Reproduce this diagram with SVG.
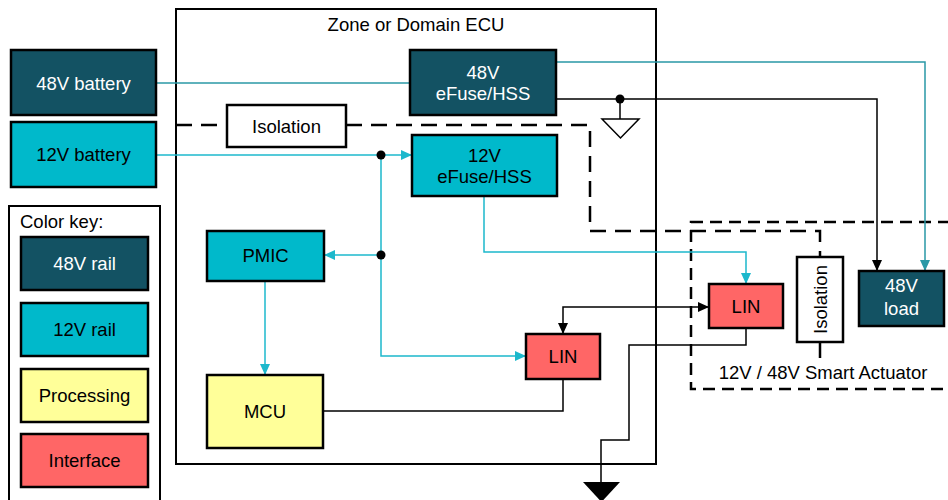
<svg xmlns="http://www.w3.org/2000/svg" width="948" height="500" viewBox="0 0 948 500">
<defs>
<style>
text{font-family:"Liberation Sans",Arial,sans-serif;font-size:18.5px;text-anchor:middle;fill:#000}
.w{fill:#fff}
.box{stroke:#000;stroke-width:2.5}
.d48{fill:#135263}
.d12{fill:#00B9CB}
.proc{fill:#FFFF99}
.intf{fill:#FF6666}
.wht{fill:#fff}
.c12{fill:none;stroke:#1CB8CC;stroke-width:1.5}
.c48{fill:none;stroke:#2A98A6;stroke-width:1.5}
.cb{fill:none;stroke:#000;stroke-width:1.5}
.dash{fill:none;stroke:#000;stroke-width:2.5;stroke-dasharray:16 9}
.dash2{fill:none;stroke:#000;stroke-width:2.5;stroke-dasharray:12 7}
</style>
<marker id="aC" markerUnits="userSpaceOnUse" markerWidth="11" markerHeight="10" refX="11" refY="5" orient="auto"><path d="M0,0 L11,5 L0,10 z" fill="#1CB8CC"/></marker>
<marker id="aT" markerUnits="userSpaceOnUse" markerWidth="11" markerHeight="10" refX="11" refY="5" orient="auto"><path d="M0,0 L11,5 L0,10 z" fill="#2A98A6"/></marker>
<marker id="aB" markerUnits="userSpaceOnUse" markerWidth="11" markerHeight="10" refX="11" refY="5" orient="auto"><path d="M0,0 L11,5 L0,10 z" fill="#000"/></marker>
<marker id="aBs" markerUnits="userSpaceOnUse" markerWidth="11" markerHeight="10" refX="11" refY="5" orient="auto-start-reverse"><path d="M0,0 L11,5 L0,10 z" fill="#000"/></marker>
</defs>
<rect width="948" height="500" fill="#fff"/>

<g id="zone-ecu">
<rect x="176" y="9" width="480" height="455" fill="none" stroke="#000" stroke-width="2"/>
<text x="416" y="31">Zone or Domain ECU</text>
</g>

<g id="smart-actuator">
<rect x="691" y="222" width="280" height="167" class="dash2"/>
<text x="823" y="379">12V / 48V Smart Actuator</text>
</g>

<g id="isolation-lines">
<path d="M176,125 H227 M346,125 H590 V231 H820 V258 M820,342 V364" class="dash"/>
</g>

<g id="connectors">
<path d="M156,83 H410" class="c48"/>
<path d="M556,62 H925 V271" class="c48" marker-end="url(#aT)"/>
<path d="M556,99 H877 V271" class="cb" marker-end="url(#aB)"/>
<path d="M620,99 V119" class="cb"/>
<path d="M156,155 H412" class="c12" marker-end="url(#aC)"/>
<path d="M381,155 V356 H526" class="c12" marker-end="url(#aC)"/>
<path d="M381,255 H324" class="c12" marker-end="url(#aC)"/>
<path d="M265,281 V375" class="c12" marker-end="url(#aC)"/>
<path d="M484,196 V252 H746 V284" class="c12" marker-end="url(#aC)"/>
<path d="M323,411 H563 V379" class="cb"/>
<path d="M563,334 V307 H709" class="cb" marker-start="url(#aBs)" marker-end="url(#aB)"/>
<path d="M746,328 V345 H629 V440 H601 V483" class="cb"/>
<circle cx="620" cy="99" r="4.5" fill="#000"/>
<circle cx="381" cy="155" r="4.5" fill="#000"/>
<circle cx="381" cy="255" r="4.5" fill="#000"/>
<path d="M602,119 H639 L620.5,138 z" fill="#fff" stroke="#000" stroke-width="1.5"/>
<path d="M583,482 H620 L601.5,502 z" fill="#000"/>
</g>

<g id="battery-48v">
<rect x="11" y="50" width="145" height="65" class="box d48"/>
<text x="83.5" y="89.5" class="w">48V battery</text>
</g>
<g id="battery-12v">
<rect x="11" y="122" width="145" height="65" class="box d12"/>
<text x="83.5" y="161" >12V battery</text>
</g>

<g id="color-key">
<rect x="9" y="206" width="151" height="310" fill="none" stroke="#000" stroke-width="2"/>
<text x="20" y="228" style="text-anchor:start">Color key:</text>
<rect x="21" y="237" width="127" height="53" class="box d48"/>
<text x="84.5" y="270" class="w">48V rail</text>
<rect x="21" y="303" width="127" height="53" class="box d12"/>
<text x="84.5" y="336">12V rail</text>
<rect x="21" y="369" width="127" height="53" class="box proc"/>
<text x="84.5" y="402">Processing</text>
<rect x="21" y="434" width="127" height="53" class="box intf"/>
<text x="84.5" y="467">Interface</text>
</g>

<g id="efuse-48v">
<rect x="410" y="50" width="146" height="65" class="box d48"/>
<text x="483" y="79" class="w">48V</text>
<text x="483" y="100" class="w">eFuse/HSS</text>
</g>
<g id="efuse-12v">
<rect x="412" y="135" width="145" height="61" class="box d12"/>
<text x="484.5" y="162">12V</text>
<text x="484.5" y="183">eFuse/HSS</text>
</g>

<g id="isolation-ecu">
<rect x="227" y="105" width="119" height="42" class="box wht"/>
<text x="286.5" y="132.5">Isolation</text>
</g>

<g id="pmic">
<rect x="207" y="231" width="117" height="50" class="box d12"/>
<text x="265.5" y="262">PMIC</text>
</g>
<g id="mcu">
<rect x="207" y="375" width="116" height="73" class="box proc"/>
<text x="265" y="417.5">MCU</text>
</g>
<g id="lin-ecu">
<rect x="526" y="334" width="74" height="45" class="box intf"/>
<text x="563" y="363">LIN</text>
</g>
<g id="lin-actuator">
<rect x="709" y="284" width="74" height="44" class="box intf"/>
<text x="746" y="312.5">LIN</text>
</g>
<g id="isolation-actuator">
<rect x="797" y="257" width="46" height="85" class="box wht"/>
<text x="0" y="0" transform="translate(826.5,299.5) rotate(-90)">Isolation</text>
</g>
<g id="load-48v">
<rect x="859" y="271" width="85" height="55" class="box d48"/>
<text x="901.5" y="292" class="w">48V</text>
<text x="901.5" y="315" class="w">load</text>
</g>
</svg>
